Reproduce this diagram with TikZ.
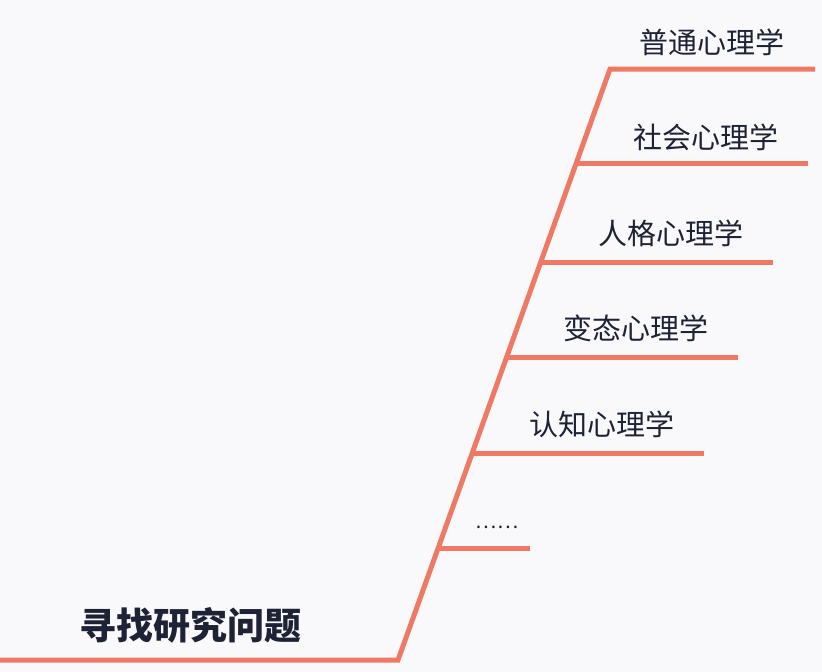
\documentclass[tikz,border=0pt]{standalone}
\usepackage{fontspec}
\setmainfont{Noto Sans CJK SC}
\definecolor{bg}{HTML}{F9F9FB}
\definecolor{ln}{HTML}{EE7A66}
\definecolor{tx}{HTML}{1E2235}
\begin{document}
\begin{tikzpicture}[x=1pt,y=-1pt,
  br/.style={draw=ln,line width=5pt,line cap=butt},
  lbl/.style={text=tx,font=\fontsize{29}{30}\selectfont,inner sep=0pt}]
\fill[bg] (0,0) rectangle (822,672);
\useasboundingbox (0,0) rectangle (822,672);
\coordinate (l0) at (0,660);
\coordinate (b) at (398,660);
\coordinate (t) at (610,69);
\coordinate (t2) at (815,69);
\draw[br,line join=miter] (l0) -- (b) -- (t) -- (t2);
\coordinate (a1) at (576.3,163); \coordinate (e1) at (808,163);
\coordinate (a2) at (540.8,262); \coordinate (e2) at (773,262);
\coordinate (a3) at (506.7,357); \coordinate (e3) at (738,357);
\coordinate (a4) at (472.3,453); \coordinate (e4) at (704,453);
\coordinate (a5) at (438.2,548); \coordinate (e5) at (530,548);
\foreach \i in {1,...,5}{\draw[br] (a\i) -- (e\i);}
\node[lbl] (n0) at (712,42) {普通心理学};
\node[lbl] (n1) at (706,137) {社会心理学};
\node[lbl] (n2) at (671,233) {人格心理学};
\node[lbl] (n3) at (636,328) {变态心理学};
\node[lbl] (n4) at (602,424) {认知心理学};
\node[lbl,font=\fontsize{20}{20}\selectfont] (n5) at (497,527) {……};
\node[lbl,font=\fontsize{37}{38}\selectfont\bfseries] (root) at (190,625) {寻找研究问题};
\end{tikzpicture}
\end{document}
